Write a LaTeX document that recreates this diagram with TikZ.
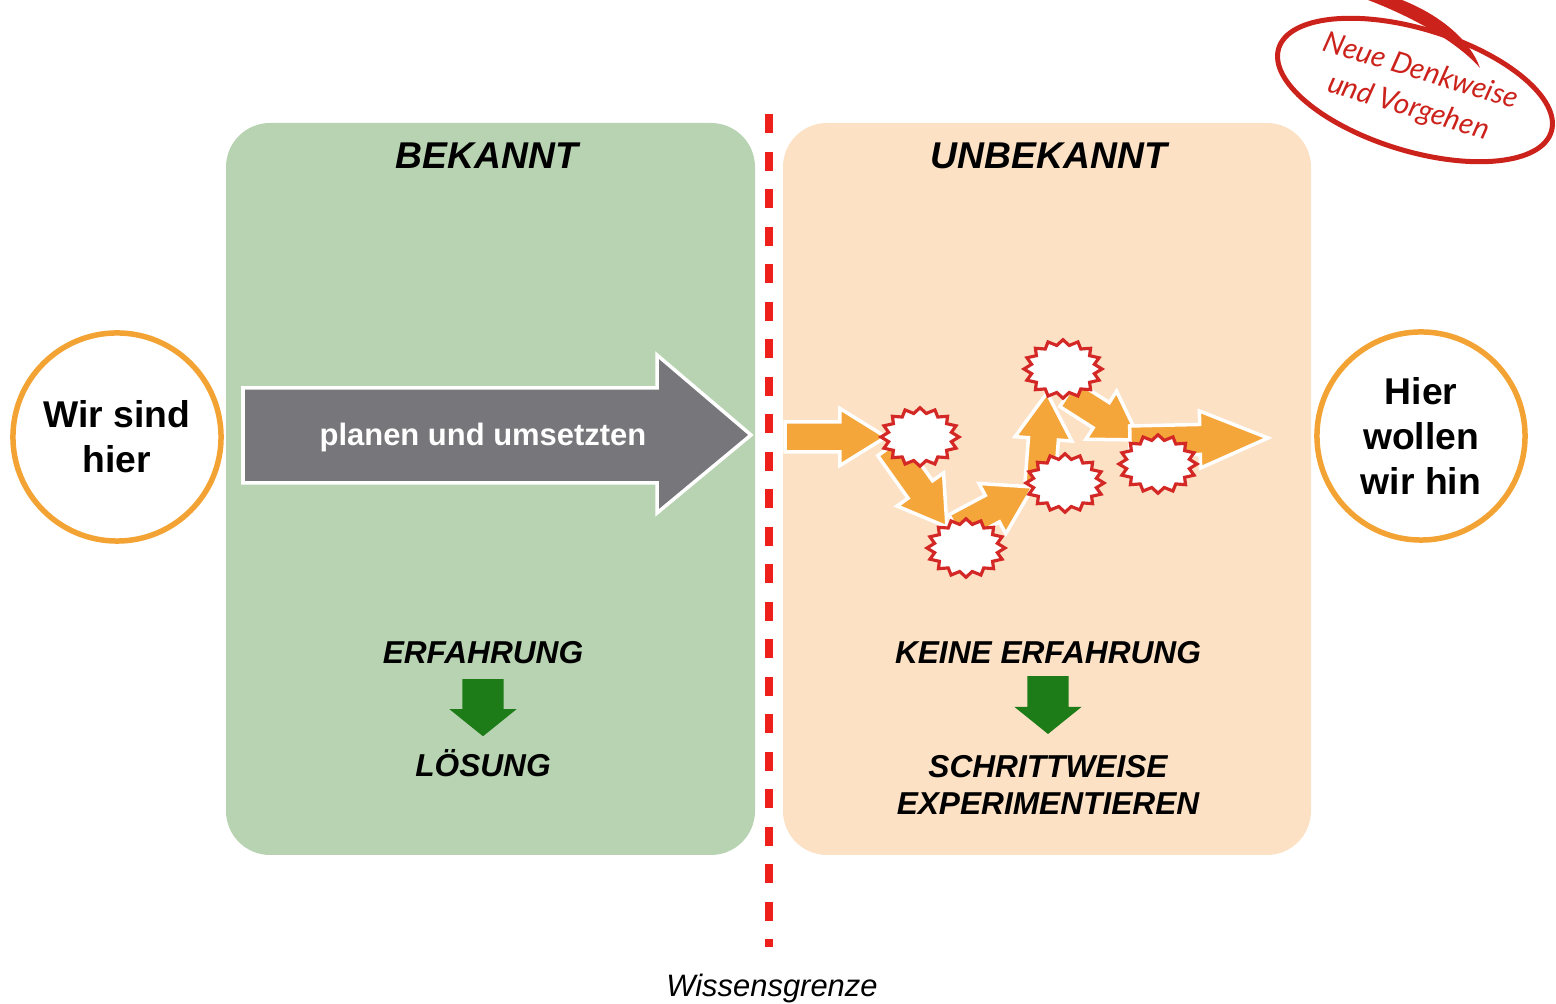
\documentclass[tikz,border=0pt]{standalone}
\usepackage{fontspec}
\setmainfont{Liberation Sans}
\newfontfamily\handfont{Lato}
\usepackage{tikz}
\usetikzlibrary{shapes.geometric, calc, backgrounds}

\definecolor{knowngreen}{RGB}{184,211,177}
\definecolor{unknownpeach}{RGB}{252,225,197}
\definecolor{plangray}{RGB}{118,118,123}
\definecolor{ringorange}{RGB}{242,163,52}
\definecolor{floworange}{RGB}{245,166,58}
\definecolor{burstred}{RGB}{212,40,38}
\definecolor{limitred}{RGB}{238,32,28}
\definecolor{stepgreen}{RGB}{30,124,24}
\definecolor{stampred}{RGB}{204,34,28}

\begin{document}
\begin{tikzpicture}[
    x=0.01cm, y=-0.01cm,
    knownbox/.style={fill=knowngreen, rounded corners=0.44cm},
    unknownbox/.style={fill=unknownpeach, rounded corners=0.44cm},
    boxtitle/.style={font=\fontsize{10.6}{12}\selectfont\bfseries\itshape, anchor=base, inner sep=0pt},
    boxnote/.style={font=\fontsize{9}{10.5}\selectfont\bfseries\itshape, align=center, inner sep=0pt},
    spot/.style={circle, draw=ringorange, line width=0.055cm, minimum size=2.08cm, align=center, font=\fontsize{10.6}{12.8}\selectfont\bfseries},
    blockarr/.style n args={3}{to path={
        ($(\tikztostart)!#1!90:(\tikztotarget)$)
        -- ($(\tikztotarget)!#3!(\tikztostart)!#1!-90:(\tikztostart)$)
        -- ($(\tikztotarget)!#3!(\tikztostart)!#2!-90:(\tikztostart)$)
        -- (\tikztotarget)
        -- ($(\tikztotarget)!#3!(\tikztostart)!#2!90:(\tikztostart)$)
        -- ($(\tikztotarget)!#3!(\tikztostart)!#1!90:(\tikztostart)$)
        -- ($(\tikztostart)!#1!-90:(\tikztotarget)$)
        -- cycle}},
    flowarrow/.style={blockarr={0.15cm}{0.285cm}{#1}, fill=floworange, draw=white, line width=0.035cm, line join=miter},
    flowarrow/.default=0.46cm,
    steparrow/.style={blockarr={0.205cm}{0.335cm}{0.27cm}, fill=stepgreen},
    burst/.style={star, star points=16, star point ratio=1.22, minimum size=0.78cm, inner sep=0pt, fill=white, draw=burstred, line width=0.9pt, yscale=0.75},
    stamp/.style={ellipse, draw=stampred, line width=0.05cm, minimum width=2.84cm, minimum height=1.22cm, inner sep=0pt, align=left, text=stampred, font=\handfont\itshape\fontsize{8.3}{10.8}\selectfont}
]
\useasboundingbox (0,0) rectangle (1556,1004);

% the two fields
\begin{scope}[on background layer]
\path[knownbox]   (226,123) rectangle (755,855);
\path[unknownbox] (783,123) rectangle (1311,855);
\end{scope}

% knowledge limit
\draw[limitred, line width=0.08cm, dash pattern=on 0.19cm off 0.185cm] (769,114) -- (769,947);
\node[font=\fontsize{8.8}{10}\selectfont\itshape, anchor=base, inner sep=0pt] (limit) at (772,997) {Wissensgrenze};

% titles
\node[boxtitle] (known)   at (487,169)  {BEKANNT};
\node[boxtitle] (unknown) at (1049,169) {UNBEKANNT};

% start and goal
\node[spot] (here) at (117,437)  {Wir sind\\hier};
\node[spot] (goal) at (1421,436) {Hier\\wollen\\wir hin};

% plan and execute
\draw[fill=plangray, draw=white, line width=0.035cm, line join=miter]
    (243,388) -- (657,388) -- (657,355) -- (751,435) -- (657,513) -- (657,483) -- (243,483) -- cycle;
\node[font=\fontsize{8.8}{10}\selectfont\bfseries, text=white, anchor=base, inner sep=0pt] (plan) at (483,446) {planen und umsetzten};

% experience -> solution
\node[boxnote, anchor=base]  (exp)   at (483,664)  {ERFAHRUNG};
\node[boxnote, anchor=base]  (sol)   at (483,777)  {LÖSUNG};
\path[steparrow] ([yshift=-0.14cm]exp.south) to ([yshift=0.13cm]sol.north);

\node[boxnote, anchor=base]  (noexp) at (1048,664) {KEINE ERFAHRUNG};
\node[boxnote, anchor=north] (steps) at (1048,755) {SCHRITTWEISE\\EXPERIMENTIEREN};
\path[steparrow] ([yshift=-0.11cm]noexp.south) to ([yshift=0.21cm]steps.north);

% trial and error path
\coordinate (flowin)  at (785,437);
\coordinate (flowout) at (1268,438);
\node[burst] (s1) at (920,437)  {};
\node[burst] (s2) at (1063,369) {};
\node[burst] (s3) at (966,548)  {};
\node[burst] (s4) at (1065,483) {};
\node[burst] (s5) at (1158,464) {};
\begin{scope}[on background layer]
\path[flowarrow] (flowin) to ([xshift=-0.34cm]s1.center);
\path[flowarrow] ([shift={(-30,10)}]s1.center) to ([shift={(-19,-21)}]s3.center);
\path[flowarrow] ([shift={(-10,-20)}]s3.center) to ([shift={(-32,4)}]s4.center);
\path[flowarrow] ([shift={(-25,0)}]s4.center) to ([shift={(-16,24)}]s2.center);
\path[flowarrow] ([shift={(5,25)}]s2.center) to ([shift={(-18,-24)}]s5.center);
\path[flowarrow=0.68cm] ([shift={(-28,-23)}]s5.center) to (flowout);
\end{scope}

% new way of thinking
\fill[stampred] (1368,0) .. controls (1420,20) and (1460,45) .. (1480,68) .. controls (1470,40) and (1440,15) .. (1402,0) -- cycle;
\node[stamp, rotate=-17] (stamp) at (1415,90) {Neue Denkweise\\\hspace{0.16cm}und Vorgehen};
\end{tikzpicture}
\end{document}
